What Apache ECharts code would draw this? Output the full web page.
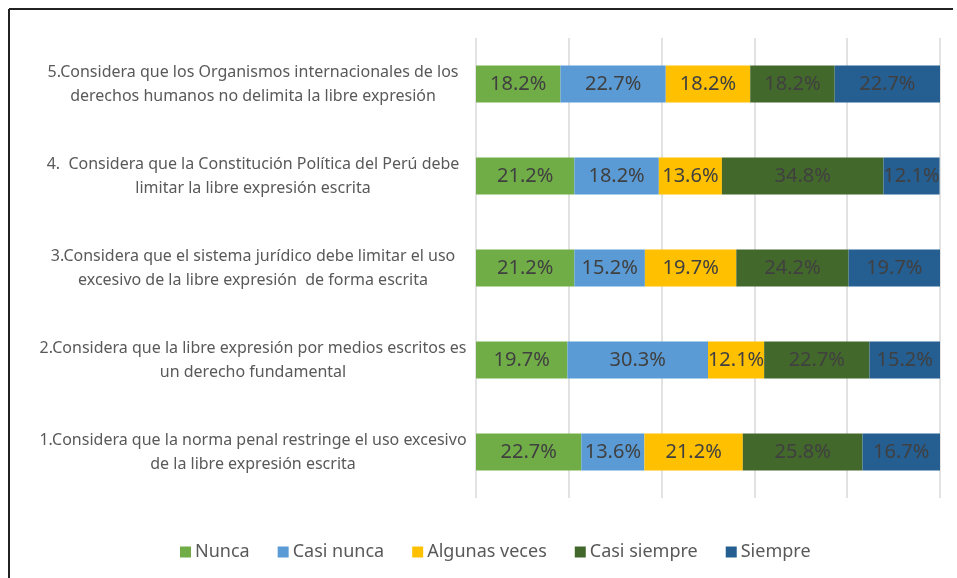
<!DOCTYPE html>
<html>
<head>
<meta charset="utf-8">
<script src="https://cdn.jsdelivr.net/npm/echarts@6/dist/echarts.min.js"></script>
<style>
  html, body { margin: 0; padding: 0; background: #fff; }
  #chart { width: 957px; height: 578px; }
</style>
</head>
<body>
<div id="chart"></div>
<script>
// preguntas, de abajo hacia arriba
const preguntas = [
  '1.Considera que la norma penal restringe el uso excesivo\nde la libre expresión escrita',
  '2.Considera que la libre expresión por medios escritos es\nun derecho fundamental',
  '3.Considera que el sistema jurídico debe limitar el uso\nexcesivo de la libre expresión  de forma escrita',
  '4.  Considera que la Constitución Política del Perú debe\nlimitar la libre expresión escrita',
  '5.Considera que los Organismos internacionales de los\nderechos humanos no delimita la libre expresión'
]

const respuestas = ['Nunca', 'Casi nunca', 'Algunas veces', 'Casi siempre', 'Siempre']
const colores = ['#70AD47', '#5B9BD5', '#FFC000', '#43682B', '#255E91']

// porcentajes por respuesta (pregunta 1..5)
const nunca = [22.7, 19.7, 21.2, 21.2, 18.2]
const casiNunca = [13.6, 30.3, 15.2, 18.2, 22.7]
const algunasVeces = [21.2, 12.1, 19.7, 13.6, 18.2]
const casiSiempre = [25.8, 22.7, 24.2, 34.8, 18.2]
const siempre = [16.7, 15.2, 19.7, 12.1, 22.7]

const valores = [nunca, casiNunca, algunasVeces, casiSiempre, siempre]

const chart = echarts.init(document.getElementById('chart'))

chart.setOption({
  animation: false,
  textStyle: { fontFamily: 'Noto Sans' },
  grid: { left: 476, right: 17, top: 38, bottom: 80 },
  legend: {
    left: 175,
    top: 538,
    itemWidth: 11,
    itemHeight: 11,
    itemGap: 28,
    icon: 'rect',
    textStyle: { fontSize: 18, color: '#595959', padding: [0, 0, 0, -1] },
    data: respuestas
  },
  xAxis: {
    type: 'value',
    min: 0,
    max: 100,
    interval: 20,
    axisLabel: { show: false },
    axisLine: { show: false },
    axisTick: { show: false },
    splitLine: { lineStyle: { color: '#d9d9d9', width: 1.5 } }
  },
  yAxis: {
    type: 'category',
    data: preguntas,
    axisLine: { show: false },
    axisTick: { show: false },
    axisLabel: {
      align: 'center',
      margin: 223,
      fontSize: 16,
      lineHeight: 24,
      padding: [4, 0, 0, 0],
      color: '#595959'
    }
  },
  series: respuestas.map((nombre, i) => ({
    name: nombre,
    type: 'bar',
    stack: 'total',
    barWidth: 37,
    itemStyle: { color: colores[i] },
    label: {
      show: true,
      position: 'inside',
      fontSize: 20,
      color: '#404040',
      formatter: p => p.value.toFixed(1) + '%'
    },
    data: valores[i]
  })),
  graphic: [
    { type: 'line', shape: { x1: 9, y1: 9, x2: 953, y2: 9 }, style: { stroke: '#222', lineWidth: 2 } },
    { type: 'line', shape: { x1: 9, y1: 9, x2: 9, y2: 578 }, style: { stroke: '#222', lineWidth: 2 } }
  ]
})
</script>
</body>
</html>
